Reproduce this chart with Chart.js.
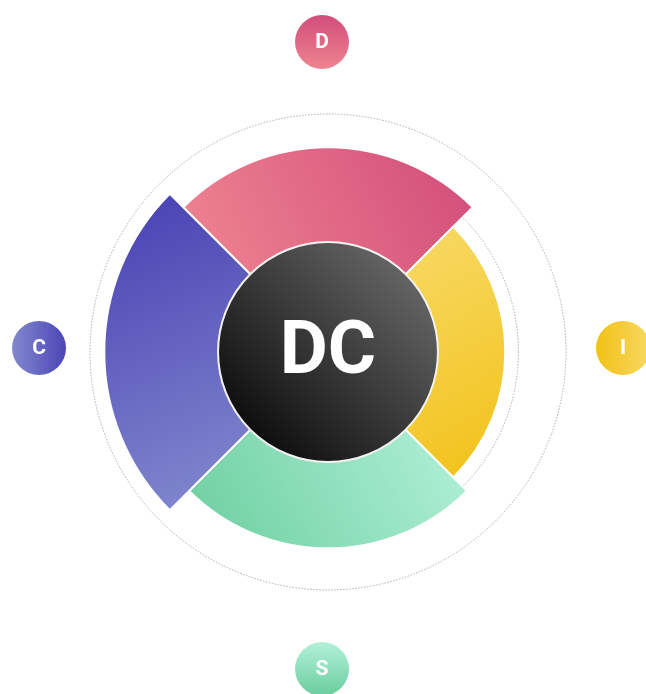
<!DOCTYPE html>
<html>
<head>
<meta charset="utf-8">
<title>DISC profile</title>
<script src="https://cdn.jsdelivr.net/npm/chart.js@4.4.1/dist/chart.umd.min.js"></script>
<style>
  html, body { margin: 0; padding: 0; background: #fff; }
  #wrap { width: 646px; height: 694px; position: relative; }
</style>
</head>
<body>
<div id="wrap"><canvas id="disc"></canvas></div>
<script>
// DISC scores (0-100), clockwise from the top
const labels = ['D', 'I', 'S', 'C'];
const scores = [86, 74.5, 82.5, 94];
const profile = 'DC';

// gradient stops for each segment / badge: [light, dark]
const palette = {
  D: ['#ef8491', '#d24d7b'],
  I: ['#f7d862', '#f2c117'],
  S: ['#b3f1da', '#6acd9d'],
  C: ['#4c45b5', '#8289ce']
};

function segmentFill(ctx) {
  const chart = ctx.chart;
  const area = chart.chartArea;
  if (!area) return '#ccc';
  const c = chart.ctx;
  const lab = labels[ctx.dataIndex];
  const cols = palette[lab];
  let g;
  if (lab === 'D') {
    g = c.createLinearGradient(area.left + 100, area.top + 160, area.right - 100, area.top + 30);
  } else if (lab === 'I') {
    g = c.createLinearGradient(area.right - 160, area.top + 130, area.right - 40, area.bottom - 120);
  } else if (lab === 'S') {
    g = c.createLinearGradient(area.right - 100, area.bottom - 170, area.left + 100, area.bottom - 20);
  } else {
    g = c.createLinearGradient(area.left + 60, area.top + 90, area.left + 180, area.bottom - 100);
  }
  g.addColorStop(0, cols[0]);
  g.addColorStop(1, cols[1]);
  return g;
}

// center disc + outer badges
const discPlugin = {
  id: 'discPlugin',
  afterDatasetsDraw(chart) {
    const r = chart.scales.r;
    const c = chart.ctx;
    const cx = r.xCenter, cy = r.yCenter;
    const inner = r.drawingArea * 0.462;

    c.save();
    const g = c.createLinearGradient(cx - inner * 0.7, cy + inner * 0.7, cx + inner * 0.7, cy - inner * 0.7);
    g.addColorStop(0, '#0f0f0f');
    g.addColorStop(1, '#636363');
    c.beginPath();
    c.arc(cx, cy, inner, 0, Math.PI * 2);
    c.fillStyle = g;
    c.fill();
    c.lineWidth = 2;
    c.strokeStyle = '#f2f2f2';
    c.stroke();

    c.fillStyle = '#fff';
    c.font = 'bold 74px Roboto';
    c.textAlign = 'center';
    c.textBaseline = 'middle';
    c.fillText(profile, cx, cy + 2);

    // badges
    const dist = [310, 295, 317, 289];
    const shift = [[-6, 0], [0, -4], [-6, 0], [0, -4]];
    labels.forEach((lab, i) => {
      const a = -Math.PI / 2 + i * Math.PI / 2;
      const bx = cx + Math.cos(a) * dist[i] + shift[i][0];
      const by = cy + Math.sin(a) * dist[i] + shift[i][1];
      const rad = 27;
      const cols = palette[lab];
      let bg;
      if (lab === 'D') {
        bg = c.createLinearGradient(bx, by - rad, bx, by + rad);
        bg.addColorStop(0, cols[1]); bg.addColorStop(1, cols[0]);
      } else if (lab === 'S') {
        bg = c.createLinearGradient(bx, by - rad, bx, by + rad);
        bg.addColorStop(0, cols[0]); bg.addColorStop(1, cols[1]);
      } else {
        bg = c.createLinearGradient(bx - rad, by, bx + rad, by);
        bg.addColorStop(0, cols[1]); bg.addColorStop(1, cols[0]);
      }
      c.beginPath();
      c.arc(bx, by, rad, 0, Math.PI * 2);
      c.fillStyle = bg;
      c.fill();
      c.fillStyle = '#fff';
      c.font = 'bold 21px Roboto';
      c.fillText(lab, bx, by + 1);
    });
    c.restore();
  }
};

new Chart(document.getElementById('disc'), {
  type: 'polarArea',
  data: {
    labels: labels,
    datasets: [{
      data: scores,
      backgroundColor: segmentFill,
      borderColor: '#ffffff',
      borderWidth: 2
    }]
  },
  options: {
    responsive: true,
    maintainAspectRatio: false,
    animation: false,
    layout: { padding: { left: 90, right: 80, top: 114, bottom: 104 } },
    plugins: { legend: { display: false }, tooltip: { enabled: false } },
    scales: {
      r: {
        min: 0,
        max: 100,
        startAngle: -45,
        ticks: { display: false, stepSize: 20 },
        angleLines: { display: false },
        pointLabels: { display: false },
        grid: { color: '#aaaaaa', lineWidth: 1 },
        border: { dash: [1.5, 1.5] }
      }
    }
  },
  plugins: [discPlugin]
});
</script>
</body>
</html>
